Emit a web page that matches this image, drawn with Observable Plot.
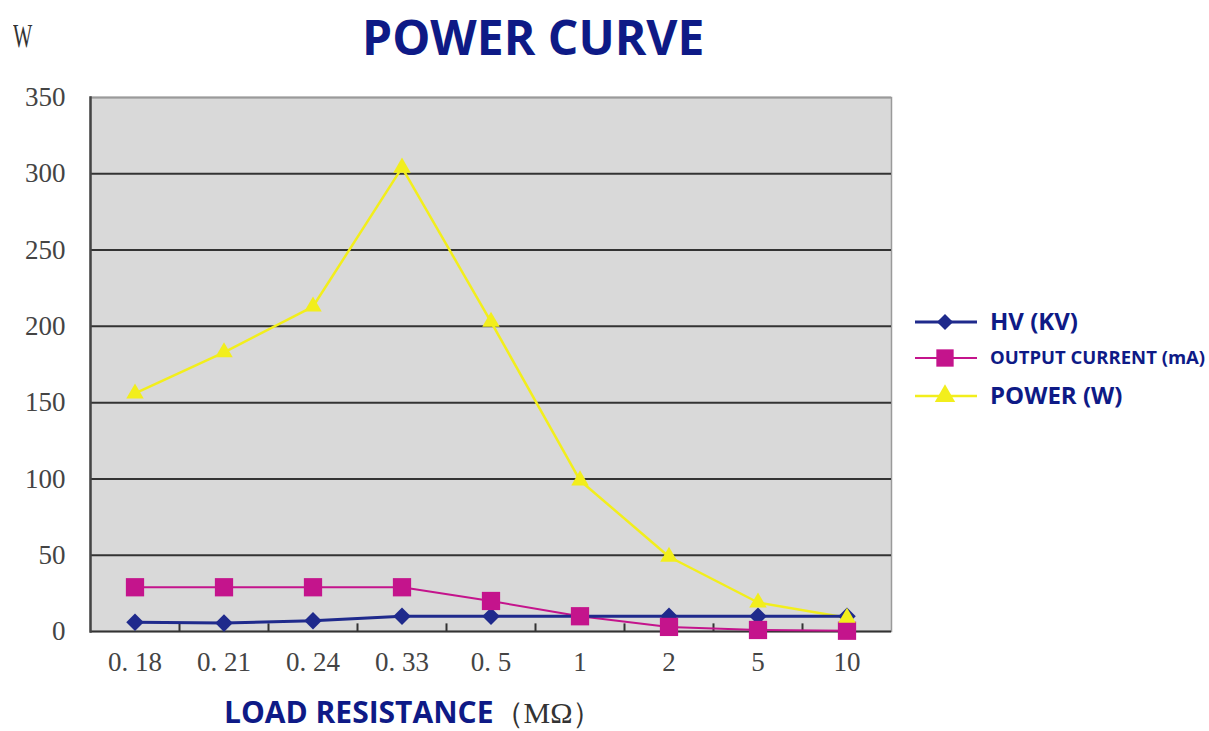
<!DOCTYPE html>
<html><head><meta charset="utf-8">
<script src="https://cdn.jsdelivr.net/npm/d3@7"></script>
<script src="https://cdn.jsdelivr.net/npm/@observablehq/plot@0.6"></script>
<style>
body{margin:0;background:#fff;}
#wrap{position:relative;width:1209px;height:731px;overflow:hidden;}
.t{position:absolute;white-space:nowrap;line-height:1.2;}
</style></head>
<body><div id="wrap"></div>
<script>
const categories = ["0.18","0.21","0.24","0.33","0.5","1","2","5","10"];
const tickLabels = ["0. 18","0. 21","0. 24","0. 33","0. 5","1","2","5","10"];
const hv = [6, 5.5, 7, 10, 10, 10, 10, 10, 10];
const current = [29, 29, 29, 29, 20, 10, 3, 1, 0.5];
const power = [156, 183, 213, 304, 203, 99, 49, 19, 9];
const yTicks = [0, 50, 100, 150, 200, 250, 300, 350];
const seriesNames = ["HV (KV)", "OUTPUT CURRENT (mA)", "POWER (W)"];
const colors = {hv: "#1f2a8c", cur: "#c4148c", pow: "#f2ee1c"};

const rows = (vals) => categories.map((c, i) => ({c, v: vals[i]}));
const hvD = rows(hv), curD = rows(current), powD = rows(power);
const fmt = (d) => tickLabels[categories.indexOf(d)];

const chart = Plot.plot({
  width: 1209, height: 731,
  marginLeft: 90, marginRight: 318, marginTop: 97, marginBottom: 100,
  x: {type: "band", domain: categories, padding: 0, label: null},
  y: {domain: [0, 350], label: null},
  style: {fontFamily: "'Liberation Serif', serif", fontSize: "27px", color: "#444", background: "#fff"},
  marks: [
    Plot.frame({fill: "#d9d9d9", stroke: "#9a9a9a", strokeWidth: 1.5}),
    Plot.ruleY(yTicks.filter(d => d > 0 && d < 350), {stroke: "#333", strokeWidth: 2}),
    Plot.ruleY([350], {stroke: "#9a9a9a", strokeWidth: 2}),
    Plot.ruleY([0], {stroke: "#333", strokeWidth: 2}),
    Plot.frame({anchor: "left", stroke: "#444", strokeWidth: 2.5}),
    Plot.ruleX(categories.slice(0, -1), {x: d => d, y1: 0, y2: 5, dx: 44.5, stroke: "#333", strokeWidth: 2}),
    Plot.axisX({tickSize: 0, tickPadding: 20, tickFormat: fmt, fontSize: 27, fill: "#444", label: null}),
    Plot.axisY({ticks: yTicks, tickSize: 0, tickPadding: 25, fontSize: 27, fill: "#444", label: null}),
    Plot.lineY(powD, {x: "c", y: "v", stroke: colors.pow, strokeWidth: 2.5}),
    Plot.lineY(curD, {x: "c", y: "v", stroke: colors.cur, strokeWidth: 2}),
    Plot.lineY(hvD, {x: "c", y: "v", stroke: colors.hv, strokeWidth: 3}),
    Plot.dot(hvD, {x: "c", y: "v", symbol: "square", rotate: 45, r: 7, fill: colors.hv}),
    Plot.dot(curD, {x: "c", y: "v", symbol: "square", r: 10.3, fill: colors.cur}),
    Plot.dot(powD, {x: "c", y: "v", symbol: "triangle", r: 6.5, fill: colors.pow}),
  ]
});
chart.style.position = "absolute";
chart.style.left = "0px"; chart.style.top = "0px";
const wrap = document.getElementById("wrap");
wrap.appendChild(chart);

function addText(txt, x, y, css) {
  const d = document.createElement("div");
  d.className = "t"; d.textContent = txt;
  d.style.left = x + "px"; d.style.top = y + "px";
  Object.assign(d.style, css);
  wrap.appendChild(d);
  return d;
}
addText("POWER CURVE", 362, 8, {font: "bold 48px 'Open Sans', sans-serif", color: "#0e1a86", lineHeight: "1.2"});
addText("W", 13, 16, {font: "34px 'Liberation Serif', serif", color: "#333", transform: "scaleX(0.6)", transformOrigin: "left", lineHeight: "1.2"});
const xl = document.createElement("div");
xl.className = "t"; xl.style.left = "224px"; xl.style.top = "695px"; xl.style.lineHeight = "33px";
xl.innerHTML = "<span style=\"font:bold 30px/33px 'Open Sans',sans-serif;color:#0e1a86\">LOAD RESISTANCE</span>" +
  "<span style=\"font:30px/33px 'Liberation Serif',serif;color:#333\">（MΩ）</span>";
wrap.appendChild(xl);

// legend
const ns = "http://www.w3.org/2000/svg";
const lg = document.createElementNS(ns, "svg");
lg.setAttribute("width", 304); lg.setAttribute("height", 120);
lg.style.position = "absolute"; lg.style.left = "905px"; lg.style.top = "300px";
wrap.appendChild(lg);
const legendItems = [
  {name: seriesNames[0], color: colors.hv, sym: d3.symbolSquare, size: 130, rot: 45, fs: 24, y: 22, sw: 3},
  {name: seriesNames[1], color: colors.cur, sym: d3.symbolSquare, size: 300, rot: 0, fs: 18.5, y: 58, sw: 2},
  {name: seriesNames[2], color: colors.pow, sym: d3.symbolTriangle, size: 180, rot: 0, fs: 24, y: 96, sw: 2.5},
];
legendItems.forEach(it => {
  const l = document.createElementNS(ns, "line");
  l.setAttribute("x1", 10); l.setAttribute("x2", 72); l.setAttribute("y1", it.y); l.setAttribute("y2", it.y);
  l.setAttribute("stroke", it.color); l.setAttribute("stroke-width", it.sw);
  lg.appendChild(l);
  const p = document.createElementNS(ns, "path");
  p.setAttribute("d", d3.symbol(it.sym, it.size)());
  p.setAttribute("transform", `translate(40,${it.y}) rotate(${it.rot})`);
  p.setAttribute("fill", it.color);
  lg.appendChild(p);
  const t = document.createElementNS(ns, "text");
  t.setAttribute("x", 85); t.setAttribute("y", it.y); t.setAttribute("dy", "0.35em");
  t.setAttribute("font-family", "'Open Sans', sans-serif"); t.setAttribute("font-weight", "bold");
  t.setAttribute("font-size", it.fs); t.setAttribute("fill", "#0e1a86");
  t.textContent = it.name;
  lg.appendChild(t);
});
</script></body></html>
